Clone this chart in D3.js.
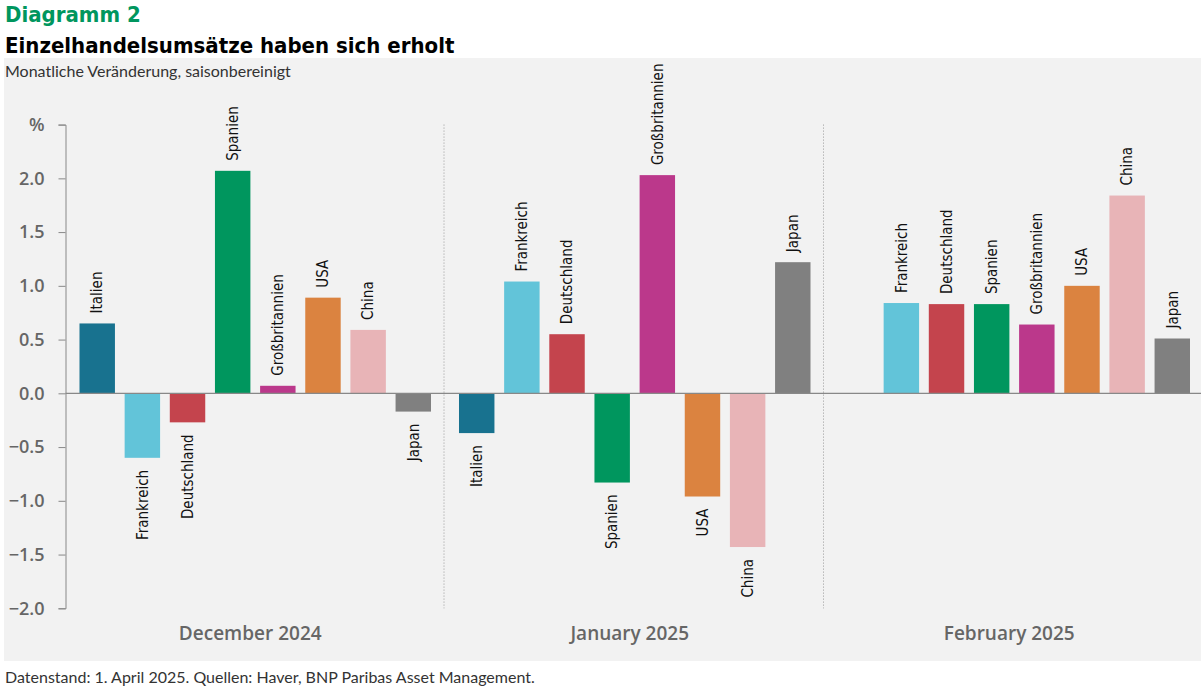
<!DOCTYPE html>
<html>
<head>
<meta charset="utf-8">
<script src="https://cdn.jsdelivr.net/npm/d3@7"></script>
<style>
  body { margin: 0; background: #fff; }
  svg { display: block; }
</style>
</head>
<body>
<div id="chart"></div>
<script>
// data
var months = ['December 2024', 'January 2025', 'February 2025'];
var countries = ['Italien', 'Frankreich', 'Deutschland', 'Spanien', 'Großbritannien', 'USA', 'China', 'Japan'];
var colors = ['#18728f', '#62c4d9', '#c4444d', '#00965e', '#bb388b', '#db8340', '#e8b4b7', '#808080'];
var dec2024 = [0.65, -0.60, -0.27, 2.07, 0.07, 0.89, 0.59, -0.17];
var jan2025 = [-0.37, 1.04, 0.55, -0.83, 2.03, -0.96, -1.43, 1.22];
var feb2025 = [null, 0.84, 0.83, 0.83, 0.64, 1.00, 1.84, 0.51];
var yTicks = [-2.0, -1.5, -1.0, -0.5, 0.0, 0.5, 1.0, 1.5, 2.0, 2.5];

var W = 1201, H = 690;
var svg = d3.select('#chart').append('svg')
    .attr('width', W)
    .attr('height', H);

// grey panel
svg.append('rect')
    .attr('x', 4).attr('y', 58)
    .attr('width', W - 4).attr('height', 603)
    .attr('fill', '#f2f2f2');

// titles
svg.append('text').attr('x', 5).attr('y', 22)
    .style('font-family', '"DejaVu Sans Condensed", sans-serif').style('font-weight', 'bold')
    .style('font-size', '22px').attr('fill', '#00965e')
    .text('Diagramm 2');
svg.append('text').attr('x', 5).attr('y', 53)
    .style('font-family', '"DejaVu Sans Condensed", sans-serif').style('font-weight', 'bold')
    .style('font-size', '22px').attr('fill', '#000')
    .text('Einzelhandelsumsätze haben sich erholt');
svg.append('text').attr('x', 5).attr('y', 77)
    .style('font-family', 'Lato, sans-serif').style('font-size', '16px')
    .attr('fill', '#333')
    .text('Monatliche Veränderung, saisonbereinigt');
svg.append('text').attr('x', 5).attr('y', 683)
    .style('font-family', 'Lato, sans-serif').style('font-size', '16px')
    .attr('fill', '#333')
    .text('Datenstand: 1. April 2025. Quellen: Haver, BNP Paribas Asset Management.');

// scales
var x0 = d3.scaleBand()
    .domain(months)
    .range([65.5, 1204])
    .paddingInner(0)
    .paddingOuter(0);

var x1 = d3.scaleBand()
    .domain(countries)
    .range([0, x0.bandwidth()])
    .paddingInner(0.215)
    .paddingOuter(0.31);

var y = d3.scaleLinear()
    .domain([-2, 2.5])
    .range([608.3, 124.6]);

// y axis
var yAxis = d3.axisLeft(y)
    .tickValues(yTicks)
    .tickSize(7)
    .tickFormat(function (d) { return d === 2.5 ? '%' : d3.format('.1f')(d); });

var gy = svg.append('g')
    .attr('transform', 'translate(65.5,0)')
    .call(yAxis);
gy.select('.domain').attr('stroke', '#888');
gy.selectAll('.tick line').attr('stroke', '#888');
gy.selectAll('.tick text')
    .attr('x', -21)
    .attr('fill', '#666')
    .style('font-family', '"Open Sans", sans-serif')
    .style('font-weight', 600)
    .style('font-size', '18px');

// dotted separators between months
svg.selectAll('line.sep')
    .data(months.slice(1))
    .enter().append('line')
    .attr('class', 'sep')
    .attr('x1', function (d) { return x0(d) - 1; })
    .attr('x2', function (d) { return x0(d) - 1; })
    .attr('y1', y(2.5)).attr('y2', y(-2))
    .attr('stroke', '#999')
    .attr('stroke-width', 1)
    .attr('stroke-dasharray', '1,2');

// month labels
svg.selectAll('text.month')
    .data(months)
    .enter().append('text')
    .attr('class', 'month')
    .attr('x', function (d) { return x0(d) + x0.bandwidth() / 2 - 5; })
    .attr('y', 640)
    .attr('text-anchor', 'middle')
    .attr('fill', '#666')
    .style('font-family', '"Open Sans", sans-serif')
    .style('font-weight', 600)
    .style('font-size', '19px')
    .text(function (d) { return d; });

// flatten into bars
var series = [dec2024, jan2025, feb2025];
var bars = [];
months.forEach(function (m, i) {
    countries.forEach(function (c, j) {
        if (series[i][j] !== null) {
            bars.push({ month: m, country: c, value: series[i][j], color: colors[j] });
        }
    });
});

var groups = svg.append('g');

groups.selectAll('rect.bar')
    .data(bars)
    .enter().append('rect')
    .attr('class', 'bar')
    .attr('x', function (d) { return x0(d.month) + x1(d.country); })
    .attr('width', x1.bandwidth())
    .attr('y', function (d) { return y(Math.max(0, d.value)); })
    .attr('height', function (d) { return Math.abs(y(d.value) - y(0)); })
    .attr('fill', function (d) { return d.color; });

// zero line
svg.append('line')
    .attr('x1', 65.5).attr('x2', 1204)
    .attr('y1', y(0)).attr('y2', y(0))
    .attr('stroke', '#888').attr('stroke-width', 1.2);

// bar labels, rotated
groups.selectAll('text.lab')
    .data(bars)
    .enter().append('text')
    .attr('class', 'lab')
    .attr('transform', function (d) {
        var cx = x0(d.month) + x1(d.country) + x1.bandwidth() / 2;
        var cy = d.value >= 0 ? y(d.value) - 10 : y(d.value) + 12;
        return 'translate(' + cx + ',' + cy + ') rotate(-90)';
    })
    .attr('dy', '0.35em')
    .attr('text-anchor', function (d) { return d.value >= 0 ? 'start' : 'end'; })
    .attr('fill', '#111')
    .style('font-family', '"Liberation Sans Narrow", "DejaVu Sans Condensed", sans-serif')
    .style('font-size', '15px')
    .text(function (d) { return d.country; });
</script>
</body>
</html>
